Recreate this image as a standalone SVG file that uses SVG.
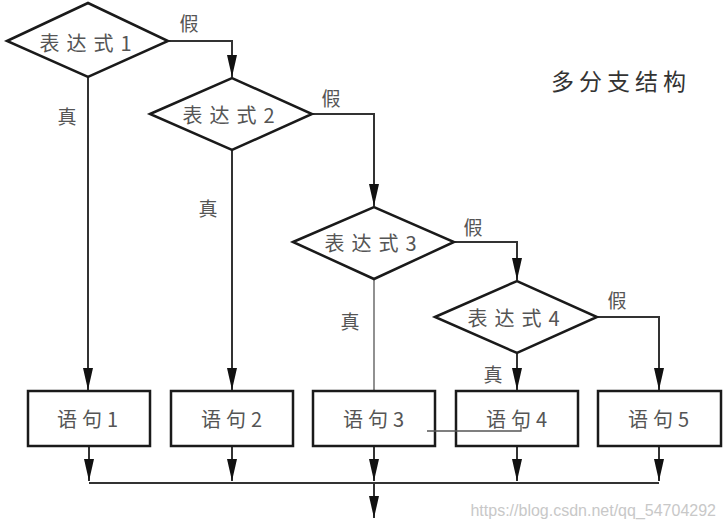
<svg xmlns="http://www.w3.org/2000/svg" width="726" height="529" viewBox="0 0 726 529">
<style>
.shape{fill:#fff;stroke:#1a1a1a;stroke-width:2.5}
.cond{font-family:"Noto Sans CJK SC","Noto Sans",sans-serif;font-size:20px;fill:#555;letter-spacing:7px;text-anchor:middle;dominant-baseline:central}
.stmt{font-family:"Noto Sans CJK SC","Noto Sans",sans-serif;font-size:20px;fill:#555;letter-spacing:5px;text-anchor:middle;dominant-baseline:central}
.lbl{font-family:"Noto Sans CJK SC",sans-serif;font-size:19px;fill:#555;text-anchor:middle;dominant-baseline:central}
.flow{fill:none;stroke:#333;stroke-width:2}
.thin{fill:none;stroke:#555;stroke-width:1.3}
</style>
<defs>
<marker id="ah" markerUnits="userSpaceOnUse" markerWidth="24" markerHeight="12" refX="22" refY="5" orient="auto">
<path d="M0,0 L22,5 L0,10 z" fill="#111"/>
</marker>
</defs>
<rect width="726" height="529" fill="#fff"/>
<g id="connectors">
<path class="flow" d="M168,41 H232 V77" marker-end="url(#ah)"/>
<path class="flow" d="M88,77 V390" marker-end="url(#ah)"/>
<path class="flow" d="M312,114 H374 V206" marker-end="url(#ah)"/>
<path class="flow" d="M232,150 V390" marker-end="url(#ah)"/>
<path class="flow" d="M454,242 H517 V280" marker-end="url(#ah)"/>
<path class="thin" d="M374,279 V391"/>
<path class="flow" d="M597,317 H659 V390" marker-end="url(#ah)"/>
<path class="flow" d="M517,353 V390" marker-end="url(#ah)"/>
<path class="flow" d="M89,446 V481" marker-end="url(#ah)"/>
<path class="flow" d="M232,446 V481" marker-end="url(#ah)"/>
<path class="flow" d="M374,446 V481" marker-end="url(#ah)"/>
<path class="flow" d="M517,446 V481" marker-end="url(#ah)"/>
<path class="flow" d="M659,446 V481" marker-end="url(#ah)"/>
<path class="flow" d="M89,483 H659"/>
<path class="flow" d="M374,483 V518" marker-end="url(#ah)"/>
</g>
<g id="d1"><polygon class="shape" points="7,41 88,3 168,41 88,77"/><text class="cond" x="89" y="42">表达式1</text></g>
<g id="d2"><polygon class="shape" points="150,114 232,78 312,114 232,150"/><text class="cond" x="232" y="114">表达式2</text></g>
<g id="d3"><polygon class="shape" points="293,242 374,207 454,242 374,279"/><text class="cond" x="374" y="242">表达式3</text></g>
<g id="d4"><polygon class="shape" points="435,317 517,281 597,317 517,353"/><text class="cond" x="517" y="317">表达式4</text></g>
<g id="s1"><rect class="shape" x="28" y="391" width="122" height="55"/><text class="stmt" x="90" y="418">语句1</text></g>
<g id="s2"><rect class="shape" x="171" y="391" width="122" height="55"/><text class="stmt" x="234" y="418">语句2</text></g>
<g id="s3"><rect class="shape" x="313" y="391" width="122" height="55"/><text class="stmt" x="376" y="418">语句3</text></g>
<g id="s4"><rect class="shape" x="456" y="391" width="122" height="55"/><text class="stmt" x="519" y="418">语句4</text></g>
<g id="s5"><rect class="shape" x="598" y="391" width="123" height="55"/><text class="stmt" x="661" y="418">语句5</text></g>
<g id="stroke-mark"><path class="thin" d="M427,431 H521 V425"/></g>
<g id="labels">
<text class="lbl" x="189" y="22">假</text>
<text class="lbl" x="331" y="97">假</text>
<text class="lbl" x="473" y="226">假</text>
<text class="lbl" x="617" y="299">假</text>
<text class="lbl" x="67" y="115">真</text>
<text class="lbl" x="208" y="207">真</text>
<text class="lbl" x="350" y="320">真</text>
<text class="lbl" x="493" y="373">真</text>
</g>
<text x="551" y="80" font-family="Noto Sans CJK SC,sans-serif" font-size="23" letter-spacing="5" fill="#333" dominant-baseline="central">多分支结构</text>
<text x="716" y="510" font-family="Liberation Sans,Arial,sans-serif" font-size="16" fill="#c8c8c8" text-anchor="end" dominant-baseline="central">https://blog.csdn.net/qq_54704292</text>
</svg>
